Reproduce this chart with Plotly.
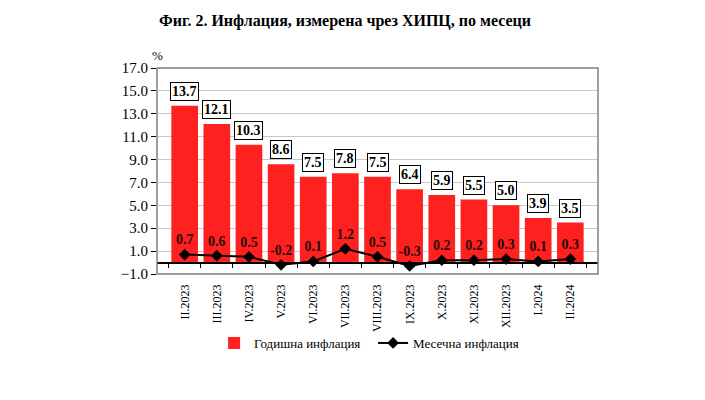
import plotly.graph_objects as go

months = ['II.2023', 'III.2023', 'IV.2023', 'V.2023', 'VI.2023', 'VII.2023', 'VIII.2023',
          'IX.2023', 'X.2023', 'XI.2023', 'XII.2023', 'I.2024', 'II.2024']
annual = [13.7, 12.1, 10.3, 8.6, 7.5, 7.8, 7.5, 6.4, 5.9, 5.5, 5.0, 3.9, 3.5]
monthly = [0.7, 0.6, 0.5, -0.2, 0.1, 1.2, 0.5, -0.3, 0.2, 0.2, 0.3, 0.1, 0.3]
y_ticks = [-1, 1, 3, 5, 7, 9, 11, 13, 15, 17]

serif = "Liberation Serif"

fig = go.Figure()

fig.add_trace(go.Bar(
    x=months, y=annual, name="Годишна инфлация",
    marker=dict(color="#FF2020", line=dict(width=0)),
))

# monthly line sits on a second x axis that draws the zero line with ticks
fig.add_trace(go.Scatter(
    x=months, y=monthly, name="Месечна инфлация", xaxis="x2",
    mode="lines+markers+text",
    line=dict(color="black", width=2),
    marker=dict(symbol="diamond", size=9, color="black"),
    text=[f"{v:.1f}" for v in monthly],
    textposition="top center",
    textfont=dict(family=serif, size=14, color="#2a0a0a", weight="bold"),
))

# boxed labels over the bars
for m, v in zip(months, annual):
    fig.add_annotation(
        x=m, y=v, text=f"<b>{v:.1f}</b>", showarrow=False,
        yanchor="bottom", yshift=5,
        font=dict(family=serif, size=14, color="black"),
        bgcolor="white", bordercolor="black", borderwidth=1, borderpad=1,
    )

fig.add_annotation(x=0, y=1, xref="paper", yref="paper", text="%", showarrow=False,
                   xanchor="center", yanchor="bottom", yshift=3,
                   font=dict(family=serif, size=13, color="black"))

# plot frame
fig.add_shape(type="rect", xref="paper", yref="paper", x0=0, x1=1, y0=0, y1=1,
              line=dict(color="#808080", width=1.5), layer="above")

# the page body adds 8px, so margins are shifted by that much
fig.update_layout(
    width=705, height=400,
    margin=dict(l=149, r=115, t=60, b=134, autoexpand=False),
    paper_bgcolor="white", plot_bgcolor="white",
    title=dict(text="<b>Фиг. 2. Инфлация, измерена чрез ХИПЦ, по месеци</b>",
               xref="container", x=0.478, xanchor="center",
               yref="container", y=0.97, yanchor="middle",
               font=dict(family=serif, size=16, color="black")),
    bargap=0.17,
    showlegend=True,
    legend=dict(orientation="h", x=0.49, xanchor="center", y=-0.335, yanchor="middle",
                font=dict(family=serif, size=13, color="black"),
                traceorder="normal", entrywidth=114, entrywidthmode="pixels",
                bgcolor="rgba(0,0,0,0)"),
    font=dict(family=serif, color="black"),
    xaxis=dict(
        automargin=False, showline=False, ticks="",
        tickangle=-90, ticklabelstandoff=7,
        tickfont=dict(family=serif, size=12, color="black"),
        showgrid=False,
    ),
    xaxis2=dict(
        matches="x", overlaying="x", anchor="free", position=1 / 18,
        showline=True, linecolor="black", linewidth=1.5,
        ticks="outside", tickson="boundaries", ticklen=5, tickcolor="black",
        showticklabels=False, showgrid=False, automargin=False,
    ),
    yaxis=dict(
        automargin=False,
        range=[-1, 17], tickvals=y_ticks, tickformat=".1f",
        showgrid=True, gridcolor="#c8c8c8", gridwidth=1,
        zeroline=False, ticks="outside", ticklen=5, tickcolor="black",
        tickfont=dict(family=serif, size=15, color="black"),
    ),
)

fig.write_html("out.html")
